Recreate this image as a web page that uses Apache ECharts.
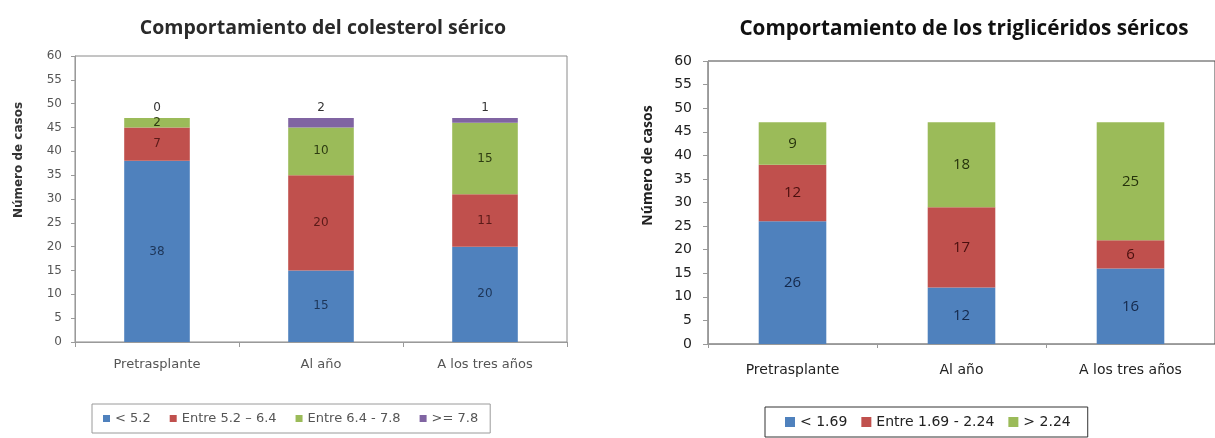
<!DOCTYPE html>
<html>
<head>
<meta charset="utf-8">
<script src="https://cdn.jsdelivr.net/npm/echarts@6/dist/echarts.min.js"></script>
<style>
  html, body { margin: 0; padding: 0; background: #ffffff; }
  #chart { width: 1215px; height: 438px; }
</style>
</head>
<body>
<div id="chart"></div>
<script>
// Categories shared by both panels
const categories = ['Pretrasplante', 'Al año', 'A los tres años'];

// Serum cholesterol (mmol/L) – number of cases per range
const colLt52 = [38, 15, 20];
const col52to64 = [7, 20, 11];
const col64to78 = [2, 10, 15];
const colGe78 = [0, 2, 1];
const colNames = ['< 5.2', 'Entre 5.2 \u2013 6.4', 'Entre 6.4 - 7.8', '>= 7.8'];

// Serum triglycerides (mmol/L) – number of cases per range
const trigLt169 = [26, 12, 16];
const trig169to224 = [12, 17, 6];
const trigGt224 = [9, 18, 25];
const trigNames = ['< 1.69', 'Entre 1.69 - 2.24', '> 2.24'];

// Value axis range shared by both panels
const yMin = 0, yMax = 60, yStep = 5;

const BLUE = '#4f81bd', RED = '#c0504d', GREEN = '#9bbb59', PURPLE = '#8064a2';
const VERD = '"DejaVu Sans", Verdana, sans-serif';
const SANS = '"Open Sans", "Noto Sans", sans-serif';

function stackSeries(name, data, color, labelColor, axisIdx, fontSize, fontFamily, pos) {
  return {
    name: name,
    type: 'bar',
    stack: 'total' + axisIdx,
    xAxisIndex: axisIdx,
    yAxisIndex: axisIdx,
    barWidth: '40%',
    data: data,
    itemStyle: { color: color },
    label: {
      show: true,
      position: pos || 'inside',
      distance: 4,
      color: labelColor,
      fontSize: fontSize,
      fontFamily: fontFamily
    }
  };
}

const chart = echarts.init(document.getElementById('chart'), null, { renderer: 'canvas' });

chart.setOption({
  animation: false,
  title: [
    {
      text: 'Comportamiento del colesterol sérico',
      left: 318, top: 13, textAlign: 'center',
      textStyle: { fontFamily: SANS, fontWeight: 'bold', fontSize: 19.5, color: '#2a2a2a' }
    },
    {
      text: 'Comportamiento de los triglicéridos séricos',
      left: 959, top: 14, textAlign: 'center',
      textStyle: { fontFamily: SANS, fontWeight: 'bold', fontSize: 20.7, color: '#111' }
    }
  ],
  legend: [
    {
      data: colNames,
      left: 92, top: 404,
      padding: [8, 12, 8, 11],
      itemGap: 19,
      itemWidth: 7, itemHeight: 7,
      icon: 'rect',
      borderColor: '#9a9a9a', borderWidth: 1,
      textStyle: { fontFamily: VERD, fontSize: 13, color: '#555' }
    },
    {
      data: trigNames,
      left: 765, top: 407,
      padding: [8, 17, 8, 20],
      itemGap: 14,
      itemWidth: 10, itemHeight: 10,
      icon: 'rect',
      borderColor: '#333', borderWidth: 1,
      textStyle: { fontFamily: VERD, fontSize: 14, color: '#222' }
    }
  ],
  grid: [
    { left: 75, top: 56, width: 492, height: 286, show: true, borderColor: '#8a8a8a', borderWidth: 1, backgroundColor: 'transparent' },
    { left: 708, top: 61, width: 519, height: 283, show: true, borderColor: '#444', borderWidth: 1, backgroundColor: 'transparent' }
  ],
  xAxis: [
    {
      type: 'category', gridIndex: 0, data: categories,
      axisLine: { lineStyle: { color: '#9a9a9a' } },
      axisTick: { show: true, length: 5, lineStyle: { color: '#9a9a9a' } },
      axisLabel: { margin: 16, fontFamily: VERD, fontSize: 13, color: '#555' }
    },
    {
      type: 'category', gridIndex: 1, data: categories,
      axisLine: { lineStyle: { color: '#999' } },
      axisTick: { show: true, length: 4, lineStyle: { color: '#999' } },
      axisLabel: { margin: 19, fontFamily: VERD, fontSize: 14, color: '#222' }
    }
  ],
  yAxis: [
    {
      type: 'value', gridIndex: 0, min: yMin, max: yMax, interval: yStep,
      name: 'Número de casos', nameLocation: 'middle', nameGap: 50,
      nameTextStyle: { fontFamily: VERD, fontWeight: 'bold', fontSize: 12, color: '#333', padding: [0, 0, 0, 78] },
      axisLine: { show: true, lineStyle: { color: '#9a9a9a' } },
      axisTick: { show: true, length: 4, lineStyle: { color: '#9a9a9a' } },
      splitLine: { show: false },
      axisLabel: { margin: 13, fontFamily: VERD, fontSize: 12, color: '#555' }
    },
    {
      type: 'value', gridIndex: 1, min: yMin, max: yMax, interval: yStep,
      name: 'Número de casos', nameLocation: 'middle', nameGap: 53,
      nameTextStyle: { fontFamily: SANS, fontWeight: 'bold', fontSize: 14, color: '#222', padding: [0, 0, 0, 74] },
      axisLine: { show: true, lineStyle: { color: '#999' } },
      axisTick: { show: true, length: 5, lineStyle: { color: '#999' } },
      splitLine: { show: false },
      axisLabel: { margin: 16, fontFamily: VERD, fontSize: 14, color: '#222' }
    }
  ],
  series: [
    stackSeries(colNames[0], colLt52, BLUE, '#1d3558', 0, 12, VERD),
    stackSeries(colNames[1], col52to64, RED, '#5a1a18', 0, 12, VERD),
    stackSeries(colNames[2], col64to78, GREEN, '#2e3c12', 0, 12, VERD),
    stackSeries(colNames[3], colGe78, PURPLE, '#333', 0, 12, VERD, 'top'),
    stackSeries(trigNames[0], trigLt169, BLUE, '#14284a', 1, 15, SANS),
    stackSeries(trigNames[1], trig169to224, RED, '#4a0f0e', 1, 15, SANS),
    stackSeries(trigNames[2], trigGt224, GREEN, '#26330c', 1, 15, SANS)
  ]
});
</script>
</body>
</html>
